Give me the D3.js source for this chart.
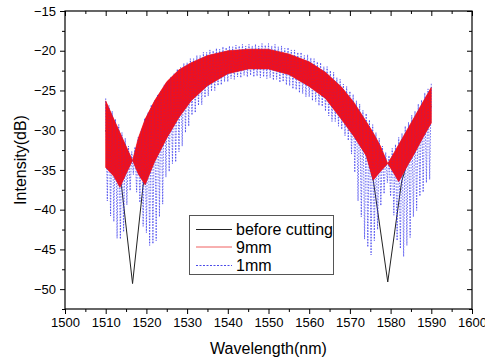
<!DOCTYPE html>
<html>
<head>
<meta charset="utf-8">
<script src="https://cdn.jsdelivr.net/npm/d3@7"></script>
<style>
    body { margin: 0; background: #fff; }
    svg text { font-family: "Liberation Sans", Arial, sans-serif; fill: #000; }
</style>
</head>
<body>
<div id="chart"></div>
<script>
// ---- data ----
let xTicks = [1500, 1510, 1520, 1530, 1540, 1550, 1560, 1570, 1580, 1590, 1600];
let yTicks = [-50, -45, -40, -35, -30, -25, -20, -15];
let seriesNames = ["before cutting", "9mm", "1mm"];

// before cutting (black), mostly hidden under the bands
let blackWl = [1510, 1512, 1513.9, 1516.6, 1519.2, 1522, 1526, 1530, 1535, 1540, 1547, 1555, 1560, 1565, 1570, 1573, 1575.8, 1579.3, 1582.7, 1585, 1588, 1590];
let blackDb = [-30, -33, -37.1, -49.3, -36.9, -31.5, -27, -24.0, -22.3, -21.3, -21.0, -21.5, -22.8, -24.5, -27.2, -30.5, -36.5, -49.1, -36.5, -32.5, -28.5, -27.0];

// 9mm (red): fringe band, upper and lower edge
let redWl = [1510, 1512, 1513.5, 1515, 1516.6, 1518, 1519.7, 1522, 1525, 1528, 1531, 1535, 1540, 1545, 1550, 1555, 1560, 1564, 1568, 1571, 1574, 1575.7, 1577.5, 1579.3, 1581, 1582, 1584, 1586, 1588, 1590];
let redUp = [-26.3, -28.6, -30.3, -32.0, -33.8, -31.0, -28.6, -26.3, -23.9, -22.4, -21.5, -20.6, -20.0, -19.8, -19.8, -20.4, -21.4, -22.7, -24.6, -26.5, -28.9, -30.3, -32.0, -34.2, -32.7, -31.8, -30.0, -28.2, -26.4, -24.6];
let redLo = [-34.7, -35.8, -37.2, -35.5, -33.8, -35.5, -36.9, -34.0, -31.0, -28.4, -26.3, -24.4, -22.9, -22.3, -22.3, -23.0, -24.5, -26.0, -28.7, -30.8, -33.2, -36.3, -35.2, -34.2, -35.6, -36.5, -34.6, -32.8, -30.9, -29.1];

// 1mm (blue dashed): fringe maxima [nm, dB]
let blueHi = [
    [1510.0, -26.0], [1510.8, -26.9], [1511.6, -27.6], [1512.4, -28.6], [1513.2, -29.3],
    [1514.0, -30.3], [1514.8, -31.0], [1515.6, -32.0], [1516.4, -32.7], [1517.2, -32.1],
    [1518.0, -30.9], [1518.8, -29.9], [1519.6, -28.5], [1520.4, -27.8], [1521.2, -26.8],
    [1522.0, -26.3], [1522.8, -25.5], [1523.6, -25.1], [1524.4, -24.3], [1525.2, -23.9],
    [1526.0, -23.3], [1526.8, -22.9], [1527.6, -22.3], [1528.4, -22.1], [1529.2, -21.6],
    [1530.0, -21.5], [1530.8, -21.0], [1531.6, -21.0], [1532.4, -20.6], [1533.2, -20.6],
    [1534.0, -20.2], [1534.8, -20.2], [1535.6, -19.9], [1536.4, -20.0], [1537.2, -19.7],
    [1538.0, -19.8], [1538.8, -19.5], [1539.6, -19.6], [1540.4, -19.4], [1541.2, -19.5],
    [1542.0, -19.3], [1542.8, -19.4], [1543.6, -19.2], [1544.4, -19.4], [1545.2, -19.2],
    [1546.0, -19.4], [1546.8, -19.2], [1547.6, -19.4], [1548.4, -19.1], [1549.2, -19.3],
    [1550.0, -19.1], [1550.8, -19.4], [1551.6, -19.2], [1552.4, -19.5], [1553.2, -19.4],
    [1554.0, -19.7], [1554.8, -19.6], [1555.6, -19.9], [1556.4, -19.9], [1557.2, -20.2],
    [1558.0, -20.2], [1558.8, -20.6], [1559.6, -20.5], [1560.4, -20.9], [1561.2, -21.0],
    [1562.0, -21.4], [1562.8, -21.5], [1563.6, -22.0], [1564.4, -22.0], [1565.2, -22.5],
    [1566.0, -22.7], [1566.8, -23.4], [1567.6, -23.6], [1568.4, -24.2], [1569.2, -24.5],
    [1570.0, -25.1], [1570.8, -25.5], [1571.6, -26.3], [1572.4, -26.7], [1573.2, -27.5],
    [1574.0, -27.9], [1574.8, -28.7], [1575.6, -29.3], [1576.4, -30.3], [1577.2, -31.0],
    [1578.0, -32.0], [1578.8, -32.8], [1579.6, -33.2], [1580.4, -32.3], [1581.2, -31.8],
    [1582.0, -30.9], [1582.8, -30.4], [1583.6, -29.5], [1584.4, -29.0], [1585.2, -28.1],
    [1586.0, -27.6], [1586.8, -26.7], [1587.6, -26.2], [1588.4, -25.3], [1589.2, -24.8],
    [1590.0, -24.0]
];
// 1mm (blue dashed): fringe minima [nm, dB]
let blueLo = [
    [1510.4, -38.9], [1511.2, -40.8], [1512.0, -41.5], [1512.8, -43.6], [1513.6, -43.7],
    [1514.4, -42.8], [1515.2, -39.4], [1516.0, -37.6], [1516.8, -35.6], [1517.6, -37.8],
    [1518.4, -39.1], [1519.2, -42.1], [1520.0, -42.9], [1520.8, -44.5], [1521.6, -44.3],
    [1522.4, -43.9], [1523.2, -40.9], [1524.0, -39.3], [1524.8, -35.9], [1525.6, -35.2],
    [1526.4, -34.2], [1527.2, -34.0], [1528.0, -32.7], [1528.8, -32.0], [1529.6, -30.3],
    [1530.4, -29.5], [1531.2, -28.1], [1532.0, -27.8], [1532.8, -26.9], [1533.6, -26.8],
    [1534.4, -25.9], [1535.2, -25.7], [1536.0, -25.1], [1536.8, -25.0], [1537.6, -24.4],
    [1538.4, -24.3], [1539.2, -23.9], [1540.0, -23.9], [1540.8, -23.5], [1541.6, -23.6],
    [1542.4, -23.3], [1543.2, -23.4], [1544.0, -23.1], [1544.8, -23.3], [1545.6, -23.1],
    [1546.4, -23.3], [1547.2, -23.2], [1548.0, -23.4], [1548.8, -23.3], [1549.6, -23.5],
    [1550.4, -23.4], [1551.2, -23.7], [1552.0, -23.6], [1552.8, -24.0], [1553.6, -23.9],
    [1554.4, -24.3], [1555.2, -24.4], [1556.0, -24.8], [1556.8, -24.9], [1557.6, -25.3],
    [1558.4, -25.4], [1559.2, -25.8], [1560.0, -25.8], [1560.8, -26.3], [1561.6, -26.4],
    [1562.4, -26.9], [1563.2, -27.0], [1564.0, -27.6], [1564.8, -28.2], [1565.6, -28.9],
    [1566.4, -28.9], [1567.2, -29.5], [1568.0, -29.9], [1568.8, -30.7], [1569.6, -31.3],
    [1570.4, -33.0], [1571.2, -35.3], [1572.0, -38.9], [1572.8, -40.9], [1573.6, -43.7],
    [1574.4, -44.7], [1575.2, -45.7], [1576.0, -43.9], [1576.8, -42.5], [1577.6, -39.5],
    [1578.4, -38.0], [1579.2, -36.6], [1580.0, -38.3], [1580.8, -40.7], [1581.6, -43.9],
    [1582.4, -44.9], [1583.2, -45.9], [1584.0, -44.5], [1584.8, -43.5], [1585.6, -40.9],
    [1586.4, -40.1], [1587.2, -38.3], [1588.0, -37.8], [1588.8, -36.6], [1589.6, -36.2]
];

let width = 485,
    height = 364,
    plotLeft = 65, plotRight = 472, plotTop = 11, plotBottom = 309;

let svg = d3.select('#chart').append('svg')
    .attr('width', width)
    .attr('height', height);

let x = d3.scaleLinear().domain([1500, 1600]).range([plotLeft, plotRight]);
let y = d3.scaleLinear().domain([-52.5, -15]).range([plotBottom, plotTop]);

let xMinor = d3.range(1505, 1600, 10);
let yMinor = [-52.5, -47.5, -42.5, -37.5, -32.5, -27.5, -22.5, -17.5];

// AXES
function styleAxis(g) {
    g.select('.domain').remove();
    g.selectAll('line').attr('stroke', '#000');
    g.selectAll('text').attr('font-size', 13).attr('font-family', '"Liberation Sans", Arial, sans-serif');
}

svg.append('g').attr('transform', 'translate(0,' + plotBottom + ')')
    .call(d3.axisBottom(x).tickValues(xTicks).tickSize(5).tickPadding(4).tickFormat(d3.format('d')))
    .call(styleAxis);
svg.append('g').attr('transform', 'translate(0,' + plotBottom + ')')
    .call(d3.axisBottom(x).tickValues(xMinor).tickSize(3).tickFormat(''))
    .call(styleAxis);
svg.append('g').attr('transform', 'translate(0,' + plotTop + ')')
    .call(d3.axisTop(x).tickValues(xTicks).tickSize(-5).tickFormat(''))
    .call(styleAxis);
svg.append('g').attr('transform', 'translate(0,' + plotTop + ')')
    .call(d3.axisTop(x).tickValues(xMinor).tickSize(-3).tickFormat(''))
    .call(styleAxis);

svg.append('g').attr('transform', 'translate(' + plotLeft + ',0)')
    .call(d3.axisLeft(y).tickValues(yTicks).tickSize(5).tickPadding(4).tickFormat(d3.format('d')))
    .call(styleAxis);
svg.append('g').attr('transform', 'translate(' + plotLeft + ',0)')
    .call(d3.axisLeft(y).tickValues(yMinor).tickSize(3).tickFormat(''))
    .call(styleAxis);
svg.append('g').attr('transform', 'translate(' + plotRight + ',0)')
    .call(d3.axisRight(y).tickValues(yTicks).tickSize(-5).tickFormat(''))
    .call(styleAxis);
svg.append('g').attr('transform', 'translate(' + plotRight + ',0)')
    .call(d3.axisRight(y).tickValues(yMinor).tickSize(-3).tickFormat(''))
    .call(styleAxis);

// SERIES
let lineGen = d3.line().x(function (d) { return x(d[0]); }).y(function (d) { return y(d[1]); });
let bandGen = d3.area()
    .x(function (d) { return x(d.w); })
    .y0(function (d) { return y(d.lo); })
    .y1(function (d) { return y(d.up); });

let black = blackWl.map(function (w, i) { return [w, blackDb[i]]; });
let red = redWl.map(function (w, i) { return { w: w, up: redUp[i], lo: redLo[i] }; });

// maxima and minima alternate along the trace
let blue = [];
blueHi.forEach(function (d, i) {
    blue.push(d);
    if (blueLo[i]) blue.push(blueLo[i]);
});

svg.append('path')
    .datum(black)
    .attr('d', lineGen)
    .attr('fill', 'none')
    .attr('stroke', '#222')
    .attr('stroke-width', 1);

// solid red band hides the black trace
svg.append('path')
    .datum(red)
    .attr('d', bandGen)
    .attr('fill', '#f3101a')
    .attr('stroke', '#f3101a')
    .attr('stroke-width', 0.6);

svg.append('path')
    .datum(blue)
    .attr('d', lineGen)
    .attr('fill', 'none')
    .attr('stroke', '#3535ec')
    .attr('stroke-width', 0.7)
    .attr('stroke-dasharray', '1.6,1.3');

// second pass of the red band so the blue dots only tint it
svg.append('path')
    .datum(red)
    .attr('d', bandGen)
    .attr('fill', '#f3101a')
    .attr('fill-opacity', 0.75)
    .attr('stroke', 'none');

// frame
svg.append('rect')
    .attr('x', plotLeft).attr('y', plotTop)
    .attr('width', plotRight - plotLeft).attr('height', plotBottom - plotTop)
    .attr('fill', 'none')
    .attr('stroke', '#000')
    .attr('stroke-width', 1.2);

// axis titles
svg.append('text')
    .attr('x', (plotLeft + plotRight) / 2).attr('y', 354)
    .attr('text-anchor', 'middle')
    .attr('font-size', 16)
    .text('Wavelength(nm)');
svg.append('text')
    .attr('transform', 'translate(26,' + (plotTop + plotBottom) / 2 + ') rotate(-90)')
    .attr('text-anchor', 'middle')
    .attr('font-size', 16)
    .text('Intensity(dB)');

// LEGEND
let legend = svg.append('g');
legend.append('rect')
    .attr('x', 189.5).attr('y', 215.5)
    .attr('width', 144).attr('height', 59)
    .attr('fill', '#fff')
    .attr('stroke', '#555')
    .attr('stroke-width', 1);

let legendStyle = [
    { stroke: '#222', dash: null },
    { stroke: '#f06060', dash: null },
    { stroke: '#4a4ae8', dash: '2,1.5' }
];
let rowY = [229.5, 247, 265.5];
seriesNames.forEach(function (name, i) {
    legend.append('line')
        .attr('x1', 196).attr('x2', 232)
        .attr('y1', rowY[i]).attr('y2', rowY[i])
        .attr('stroke', legendStyle[i].stroke)
        .attr('stroke-width', 1)
        .attr('stroke-dasharray', legendStyle[i].dash);
    legend.append('text')
        .attr('x', 236).attr('y', rowY[i] + 5.5)
        .attr('font-size', 16)
        .text(name);
});
</script>
</body>
</html>
